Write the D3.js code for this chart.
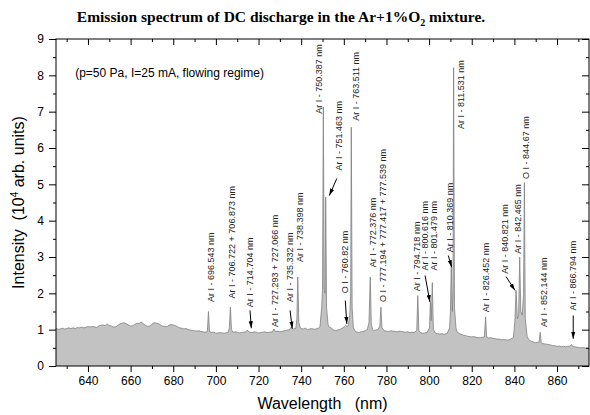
<!DOCTYPE html>
<html>
<head>
<meta charset="utf-8">
<script src="https://cdn.jsdelivr.net/npm/d3@7"></script>
<style>
  body { margin: 0; background: #fff; }
  text { font-family: Arial, "Liberation Sans", sans-serif; }
</style>
</head>
<body>
<svg id="chart" width="590" height="415"></svg>
<script>
// spectrum: [wavelength nm, intensity 10^4 a.u.]
var spectrum = [
  [625,1.03],[626,1.01],[627,1.02],[628,1.04],[629,1.02],[630,1.03],[631,1.05],[632,1.03],
  [633,1.05],[634,1.03],[635,1.06],[636,1.05],[637,1.07],[638,1.05],[639,1.06],[640,1.09],
  [641,1.07],[642,1.09],[643,1.08],[644,1.06],[645,1.10],[646,1.12],[647,1.13],[648,1.11],
  [649,1.15],[650,1.12],[651,1.10],[652,1.07],[653,1.08],[654,1.12],[655,1.16],[656,1.18],
  [657,1.19],[658,1.16],[659,1.13],[660,1.10],[661,1.11],[662,1.15],[663,1.18],[664,1.17],
  [665,1.21],[666,1.16],[667,1.12],[668,1.09],[669,1.10],[670,1.15],[671,1.19],[672,1.18],
  [673,1.17],[674,1.13],[675,1.10],[676,1.09],[677,1.08],[678,1.12],[679,1.14],[680,1.13],
  [681,1.11],[682,1.08],[683,1.05],[684,1.04],[685,1.02],[686,1.03],[687,1.00],[688,0.99],
  [689,0.98],[690,0.97],[691,0.96],[692,0.97],[693,0.95],[694,0.94],[695,0.93],
  [696.0,0.95],[696.5,1.50],[697.0,0.95],
  [698,0.92],[699,0.93],[700,0.90],[701,0.91],[702,0.92],[703,0.91],[704,0.90],[705,0.92],
  [705.8,0.93],[706.3,1.05],[706.8,1.62],[707.3,1.00],[708,0.93],[709,0.94],[710,0.93],
  [711,0.91],[712,0.92],[713,0.93],[714,0.94],[714.7,0.99],[715.5,0.94],[716,0.93],
  [717,0.92],[718,0.94],[719,0.93],[720,0.91],[721,0.92],[722,0.93],[723,0.94],[724,0.92],
  [725,0.93],[726.5,0.94],[727.2,1.02],[727.9,0.95],[729,0.96],[730,0.94],[731,0.95],
  [732,0.97],[733,0.98],[734.5,1.00],[735.3,1.07],[736.2,1.02],
  [737.5,1.04],[738.0,1.30],[738.4,2.45],[738.9,1.20],[739.6,1.05],[740,1.03],[741,1.02],
  [742,1.04],[743,1.00],[744,1.02],[745,1.03],[746,1.01],[747,1.02],[748,1.04],
  [748.8,1.08],[749.6,1.60],[750.0,2.10],[750.4,7.13],[750.8,2.10],
  [751.2,2.00],[751.5,4.65],[751.9,1.60],[752.6,1.15],[753,1.08],[754,1.05],[755,1.00],
  [756,0.97],[757,0.99],[758,1.00],[759.5,1.05],[760.2,1.08],[760.8,1.12],[761.4,1.09],
  [762,1.10],[762.8,1.40],[763.2,2.00],[763.5,6.57],[763.9,1.60],
  [764.5,1.05],[765.5,0.95],[766,0.94],[767,0.92],[768,0.94],[769,0.95],[770,0.97],
  [771,1.00],[771.8,1.20],[772.4,2.45],[772.9,1.15],[773.5,1.00],[774,0.98],[775,0.99],
  [776,1.00],[776.9,1.10],[777.4,1.62],[777.9,1.05],[779,0.97],[780,0.96],
  [781,0.95],[782,0.97],[783,0.96],[784,0.95],[785,0.94],[786,0.96],[787,0.95],[788,0.94],
  [789,0.93],[790,0.94],[791,0.92],[792,0.93],[793,0.92],[794.2,0.98],
  [794.7,1.94],[795.2,0.98],[796,0.92],[797,0.90],[798,0.91],[799,0.92],[800.2,1.05],
  [800.6,1.76],[801.0,1.25],[801.5,2.30],[802.0,1.00],[803,0.90],[804,0.89],[805,0.88],
  [806,0.89],[807,0.87],[808.5,0.90],[809.6,1.05],
  [810.0,1.50],[810.4,2.82],[810.9,1.50],[811.2,2.00],[811.5,8.21],[811.9,1.60],[812.6,1.05],
  [813,0.95],[814,0.90],[815,0.87],[816,0.85],[817,0.84],[818,0.82],[819,0.81],[820,0.80],
  [821,0.81],[822,0.79],[823,0.78],[824,0.78],[825.9,0.80],[826.5,1.35],
  [827.0,0.80],[828,0.77],[829,0.78],[830,0.76],[831,0.75],[832,0.74],[833,0.74],[834,0.72],
  [835,0.73],[836,0.72],[837,0.71],[838,0.73],[839.5,0.78],
  [840.2,1.20],[840.8,2.08],[841.4,1.30],[842.0,1.40],[842.5,3.00],[843.0,1.50],[843.7,1.40],
  [844.3,2.00],[844.7,5.05],[845.1,1.30],[846,0.80],[847,0.71],[848,0.68],[849,0.66],
  [850,0.64],[851.6,0.66],[852.1,0.93],[852.6,0.64],[853,0.62],[854,0.61],[855,0.60],
  [856,0.59],[857,0.58],[858,0.56],[859,0.56],[860,0.54],[861,0.55],[862,0.53],[863,0.54],
  [864,0.53],[865,0.54],[866.2,0.55],[866.8,0.59],[867.4,0.54],[868,0.53],[869,0.52],
  [870,0.51],[871,0.50],[872,0.51],[873,0.50],[874,0.49],[875,0.48]
];

// line labels: text, where the label starts (nm, intensity)
var labelTexts = [
  "Ar I - 696.543 nm", "Ar I - 706.722 + 706.873 nm", "Ar I - 714.704 nm",
  "Ar I - 727.293 + 727.066 nm", "Ar I - 735.332 nm", "Ar I - 738.398 nm",
  "Ar I - 750.387 nm", "Ar I - 751.463 nm", "O I - 760.82 nm", "Ar I - 763.511 nm",
  "Ar I - 772.376 nm", "O I - 777.194 + 777.417 + 777.539 nm", "Ar I - 794.718 nm",
  "Ar I - 800.616 nm", "Ar I - 801.479 nm", "Ar I - 810.369 nm", "Ar I - 811.531 nm",
  "Ar I - 826.452 nm", "Ar I - 840.821 nm", "Ar I - 842.465 nm", "O I - 844.67 nm",
  "Ar I - 852.144 nm", "Ar I - 866.794 nm"
];
var labelAt = [
  [697.6,1.76],[707.7,1.86],[716.0,1.62],[727.7,1.07],[734.8,1.76],[739.4,2.86],
  [748.5,6.94],[757.9,5.38],[760.6,2.00],[765.7,6.75],[773.5,2.72],[778.5,1.76],
  [794.2,2.06],[798.1,2.63],[802.4,2.63],[809.8,3.13],[814.8,6.52],[826.7,1.48],
  [835.6,2.54],[841.4,3.09],[845.5,5.15],[853.6,1.07],[867.6,1.53]
];
// arrows: [from nm, from intensity, to nm, to intensity]
var arrows = [
  [716.0,1.53,716.6,1.04],[734.8,1.53,735.8,1.03],[756.7,5.16,753.2,4.69],
  [760.7,1.80,761.4,1.16],[798.1,2.49,800.4,1.76],[809.0,3.04,810.6,2.72],
  [836.1,2.46,840.3,2.08],[867.6,1.39,867.6,0.75]
];

var xMajor = [640,660,680,700,720,740,760,780,800,820,840,860];
var xMinor = [630,650,670,690,710,730,750,770,790,810,830,850,870];
var yMajor = [0,1,2,3,4,5,6,7,8,9];
var yMinor = [0.5,1.5,2.5,3.5,4.5,5.5,6.5,7.5,8.5];

var svg = d3.select("#chart"),
    plotL = 56, plotR = 589, plotT = 39, plotB = 366;

var x = d3.scaleLinear().domain([625, 875]).range([plotL, plotR]);
var y = d3.scaleLinear().domain([0, 9]).range([plotB, plotT]);

var area = d3.area()
  .x(function(d) { return x(d[0]); })
  .y0(y(0))
  .y1(function(d) { return y(d[1]); });
var line = d3.line()
  .x(function(d) { return x(d[0]); })
  .y(function(d) { return y(d[1]); });

svg.append("path").datum(spectrum)
  .attr("d", area).attr("fill", "#c2c2c2");
svg.append("path").datum(spectrum)
  .attr("d", line).attr("fill", "none")
  .attr("stroke", "#808080").attr("stroke-width", 0.8);

// axes
function drawAxis(axis, tf) {
  var g = svg.append("g").attr("transform", tf).call(axis);
  g.select(".domain").remove();
  g.selectAll("line").attr("stroke", "#000");
  g.selectAll("text").attr("fill", "#000").style("font-size", "12px")
    .style("font-family", "Arial, 'Liberation Sans', sans-serif");
  return g;
}
drawAxis(d3.axisBottom(x).tickValues(xMajor).tickSize(6).tickPadding(4).tickFormat(d3.format("d")), "translate(0," + plotB + ")");
drawAxis(d3.axisBottom(x).tickValues(xMinor).tickSize(3).tickFormat(""), "translate(0," + plotB + ")");
drawAxis(d3.axisTop(x).tickValues(xMajor).tickSize(-6).tickFormat(""), "translate(0," + plotT + ")");
drawAxis(d3.axisTop(x).tickValues(xMinor).tickSize(-3).tickFormat(""), "translate(0," + plotT + ")");
drawAxis(d3.axisLeft(y).tickValues(yMajor).tickSize(7).tickPadding(5).tickFormat(d3.format("d")), "translate(" + plotL + ",0)");
drawAxis(d3.axisLeft(y).tickValues(yMinor).tickSize(3).tickFormat(""), "translate(" + plotL + ",0)");
drawAxis(d3.axisRight(y).tickValues(yMajor).tickSize(-7).tickFormat(""), "translate(" + plotR + ",0)");
drawAxis(d3.axisRight(y).tickValues(yMinor).tickSize(-3).tickFormat(""), "translate(" + plotR + ",0)");

svg.append("rect")
  .attr("x", plotL).attr("y", plotT)
  .attr("width", plotR - plotL).attr("height", plotB - plotT)
  .attr("fill", "none").attr("stroke", "#000").attr("stroke-width", 1);

// line labels
svg.selectAll(".lbl").data(labelTexts).enter().append("text")
  .attr("class", "lbl")
  .attr("transform", function(d, i) {
    return "translate(" + x(labelAt[i][0]) + "," + y(labelAt[i][1]) + ") rotate(-90)";
  })
  .attr("dy", "0.35em")
  .style("font-size", "9px")
  .attr("fill", "#222")
  .text(function(d) { return d; });

// arrows
svg.append("defs").append("marker")
  .attr("id", "head").attr("viewBox", "0 0 10 10")
  .attr("refX", 10).attr("refY", 5)
  .attr("markerWidth", 7).attr("markerHeight", 7)
  .attr("markerUnits", "userSpaceOnUse")
  .attr("orient", "auto")
  .append("path").attr("d", "M0,2 L10,5 L0,8 Z").attr("fill", "#000");

svg.selectAll(".arr").data(arrows).enter().append("line")
  .attr("class", "arr")
  .attr("x1", function(d) { return x(d[0]); })
  .attr("y1", function(d) { return y(d[1]); })
  .attr("x2", function(d) { return x(d[2]); })
  .attr("y2", function(d) { return y(d[3]); })
  .attr("stroke", "#000").attr("stroke-width", 1)
  .attr("marker-end", "url(#head)");

// condition note
svg.append("text")
  .attr("x", x(634.0)).attr("y", y(7.95))
  .style("font-size", "12px")
  .text("(p=50 Pa, I=25 mA, flowing regime)");

// title
var title = svg.append("text")
  .attr("x", 281).attr("y", 22)
  .attr("text-anchor", "middle")
  .style("font-family", "'Liberation Serif', 'Times New Roman', serif")
  .style("font-weight", "bold").style("font-size", "15.5px");
title.append("tspan").text("Emission spectrum of DC discharge in the Ar+1%O");
title.append("tspan").attr("dy", 4).style("font-size", "10px").text("2");
title.append("tspan").attr("dy", -4).text(" mixture.");

// axis titles
svg.append("text")
  .attr("x", (plotL + plotR) / 2).attr("y", 409)
  .attr("text-anchor", "middle")
  .style("font-size", "16px")
  .attr("xml:space", "preserve")
  .text("Wavelength   (nm)");

var yl = svg.append("text")
  .attr("transform", "translate(24," + (plotT + plotB) / 2 + ") rotate(-90)")
  .attr("text-anchor", "middle")
  .attr("xml:space", "preserve")
  .style("font-size", "16px");
yl.append("tspan").text("Intensity  (10");
yl.append("tspan").attr("dy", -6).style("font-size", "10px").text("4");
yl.append("tspan").attr("dy", 6).text(" arb. units)");
</script>
</body>
</html>
